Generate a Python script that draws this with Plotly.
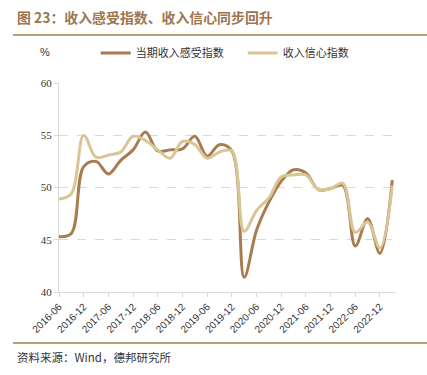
import plotly.graph_objects as go

quarters = ["2016-06","2016-09","2016-12","2017-03","2017-06","2017-09","2017-12","2018-03",
            "2018-06","2018-09","2018-12","2019-03","2019-06","2019-09","2019-12","2020-03",
            "2020-06","2020-09","2020-12","2021-03","2021-06","2021-09","2021-12","2022-03",
            "2022-06","2022-09","2022-12","2023-03"]
income_feel = [45.3, 45.6, 52.0, 52.5, 51.3, 52.6, 53.6, 55.3, 53.5, 53.6, 53.7, 54.9, 53.0, 54.1,
               53.5, 41.4, 45.9, 48.6, 50.6, 51.7, 51.4, 49.8, 49.9, 50.2, 44.4, 47.0, 43.7, 50.7]
income_conf = [48.9, 49.4, 55.0, 52.9, 53.1, 53.4, 54.9, 54.5, 53.6, 52.8, 54.4, 54.1, 52.8, 53.4,
               53.5, 45.8, 47.8, 49.0, 51.0, 51.2, 51.2, 49.8, 49.9, 50.4, 45.7, 46.7, 44.2, 50.2]
tick_labels = quarters[::2]
y_ticks = [40, 45, 50, 55, 60]

xs = list(range(len(quarters)))
CJK = "Noto Sans CJK SC"

fig = go.Figure()
fig.add_trace(go.Scatter(x=xs, y=income_feel, mode="lines", name="当期收入感受指数",
                         line=dict(color="#A87C4F", width=3, shape="spline", smoothing=1)))
fig.add_trace(go.Scatter(x=xs, y=income_conf, mode="lines", name="收入信心指数",
                         line=dict(color="#D9C596", width=3, shape="spline", smoothing=1)))

fig.update_layout(
    width=427, height=375,
    margin=dict(l=59, r=31, t=83, b=83, autoexpand=False),
    paper_bgcolor="white", plot_bgcolor="white",
    font=dict(family="Liberation Sans, " + CJK, size=10, color="#333333"),
    showlegend=True,
    legend=dict(orientation="h", x=0.109, y=1.143, xanchor="left", yanchor="middle",
                font=dict(family=CJK, size=11, color="#333333"),
                entrywidth=102, entrywidthmode="pixels", bgcolor="rgba(0,0,0,0)"),
    xaxis=dict(range=[0, 27.3], tickmode="array", tickvals=xs[::2], ticktext=tick_labels,
               tickangle=-45, showgrid=False, showline=True, linecolor="#D9D9D9", linewidth=1,
               ticks="outside", ticklen=4, tickcolor="#D9D9D9", zeroline=False,
               tickfont=dict(size=10, color="#333333")),
    yaxis=dict(range=[40, 60], tickmode="array", tickvals=y_ticks, showline=True,
               linecolor="#D9D9D9", linewidth=1, ticks="outside", ticklen=4, tickcolor="#D9D9D9",
               showgrid=True, gridcolor="#D9D9D9", griddash="dash", gridwidth=1, zeroline=False,
               tickfont=dict(family="Liberation Serif", size=11, color="#333333")),
)

fig.add_annotation(text="<b>图 23：收入感受指数、收入信心同步回升</b>", xref="paper", yref="paper",
                   x=-(59-15)/337, y=1 + (83-17)/209, xanchor="left", yanchor="middle", showarrow=False,
                   font=dict(family=CJK, size=13.9, color="#9C7650"))
fig.add_annotation(text="%", xref="paper", yref="paper", x=-(59-45)/337, y=1 + (83-52)/209,
                   xanchor="center", yanchor="middle", showarrow=False,
                   font=dict(family="Liberation Sans", size=11, color="#333333"))
fig.add_annotation(text="资料来源：Wind，德邦研究所", xref="paper", yref="paper",
                   x=-(59-15)/337, y=-(357-292)/209, xanchor="left", yanchor="middle",
                   showarrow=False, font=dict(family=CJK, size=11.5, color="#333333"))
fig.add_shape(type="line", xref="paper", yref="paper", x0=-(59-13)/337, x1=(427-59)/337,
              y0=1 + (83-35)/209, y1=1 + (83-35)/209, line=dict(color="#A87C4F", width=1.5))
fig.add_shape(type="line", xref="paper", yref="paper", x0=-(59-13)/337, x1=(427-59)/337,
              y0=-(343-292)/209, y1=-(343-292)/209, line=dict(color="#A87C4F", width=1.5))

fig.write_html("out.html", config={"displayModeBar": False},
               post_script="document.body.style.margin='0';")
